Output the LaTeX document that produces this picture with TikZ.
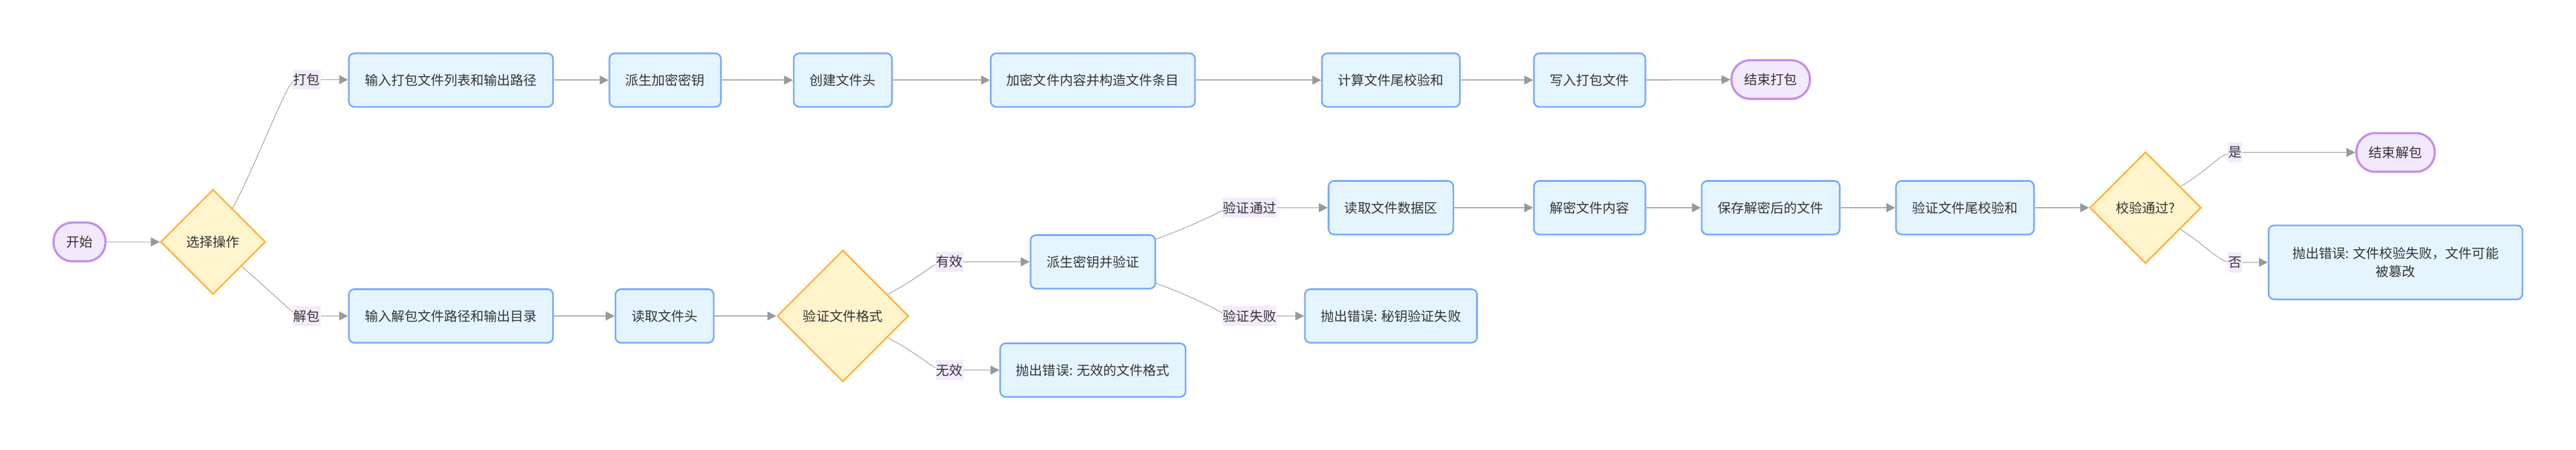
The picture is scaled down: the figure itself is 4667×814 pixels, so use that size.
\documentclass[tikz,border=0pt]{standalone}
\usepackage{fontspec}
\setmainfont{Noto Sans CJK SC}
\usetikzlibrary{arrows.meta,backgrounds,shapes.geometric}

\definecolor{boxfill}{HTML}{E5F5FF}
\definecolor{boxline}{HTML}{78A9FF}
\definecolor{decfill}{HTML}{FFF4CC}
\definecolor{decline}{HTML}{FFB545}
\definecolor{endfill}{HTML}{F3E9FD}
\definecolor{endline}{HTML}{C38FEA}
\definecolor{lblfill}{HTML}{F3EAFD}
\definecolor{linegray}{HTML}{ABABAB}
\definecolor{tipgray}{HTML}{999999}
\definecolor{txt}{HTML}{333333}

\begin{document}
\begin{tikzpicture}[x=0.5pt,y=-0.5pt,font=\fontsize{12pt}{16.5pt}\selectfont,text=txt]
\tikzstyle{decision} = [diamond, aspect=1, draw=decline, line width=1.5pt, fill=decfill,
inner sep=9pt]
\tikzstyle{block} = [rectangle, draw=boxline, line width=1.5pt, fill=boxfill,
rounded corners=5pt, minimum height=48.5pt, inner xsep=14.5pt]
\tikzstyle{terminal} = [rectangle, draw=endline, line width=2pt, fill=endfill,
rounded corners=17pt, minimum height=35pt, inner xsep=11.5pt]
\tikzstyle{elabel} = [rectangle, fill=lblfill, inner xsep=0.5pt, minimum height=18pt]
\tikzstyle{line} = [draw=linegray, line width=1pt, -{Triangle[length=8pt,width=8pt,color=tipgray]}]
\tikzstyle{curve} = [line, line width=0.7pt]

\useasboundingbox (0,0) rectangle (4667,814);

% start and choice
\node [terminal] (start) at (144,438) {开始};
\node [decision] (choose) at (386,438) {选择操作};
\node [elabel] (lblpack) at (556,144) {打包};
\node [elabel] (lblunpack) at (556,572) {解包};

% pack row
\node [block] (pack) at (817,145) {输入打包文件列表和输出路径};
\node [block] (derivekey) at (1205,145) {派生加密密钥};
\node [block] (header) at (1527,145) {创建文件头};
\node [block] (encrypt) at (1980,145) {加密文件内容并构造文件条目};
\node [block] (checksum) at (2520,145) {计算文件尾校验和};
\node [block] (write) at (2880,145) {写入打包文件};
\node [terminal] (endpack) at (3208,144) {结束打包};

% unpack rows
\node [block] (unpack) at (817,572) {输入解包文件路径和输出目录};
\node [block] (readhdr) at (1204,572) {读取文件头};
\node [decision] (verifyfmt) at (1527,572) {验证文件格式};
\node [elabel] (lblvalid) at (1720,474) {有效};
\node [elabel] (lblinvalid) at (1720,670) {无效};
\node [block] (derive) at (1980,474) {派生密钥并验证};
\node [block] (errfmt) at (1980,670) {抛出错误: 无效的文件格式};
\node [elabel] (lblpass) at (2264,376) {验证通过};
\node [elabel] (lblfail) at (2264,572) {验证失败};
\node [block] (readdata) at (2520,376) {读取文件数据区};
\node [block] (errkey) at (2520,572) {抛出错误: 秘钥验证失败};
\node [block] (decrypt) at (2880,376) {解密文件内容};
\node [block] (save) at (3208,376) {保存解密后的文件};
\node [block] (verifysum) at (3560,376) {验证文件尾校验和};
\node [decision] (checkok) at (3887,376) {校验通过?};
\node [elabel] (lblyes) at (4049,276) {是};
\node [elabel] (lblno) at (4049,475) {否};
\node [terminal] (endunpack) at (4340,276) {结束解包};
\node [block, align=center, minimum width=230pt, minimum height=67pt] (errsum) at (4340,475)
{抛出错误: 文件校验失败，文件可能\\被篡改};

\begin{scope}[on background layer]
\tikzstyle{every path}=[line]
\path (start) -- (choose);
\path [curve] (choose) .. controls (455,318) and (520,150) .. (lblpack) -- (pack);
\path [curve] (choose) .. controls (470,510) and (530,565) .. (lblunpack) -- (unpack);

\path (pack) -- (derivekey);
\path (derivekey) -- (header);
\path (header) -- (encrypt);
\path (encrypt) -- (checksum);
\path (checksum) -- (write);
\path (write) -- (endpack);

\path (unpack) -- (readhdr);
\path (readhdr) -- (verifyfmt);
\path [curve] (verifyfmt) .. controls (1650,512) and (1690,480) .. (lblvalid) -- (derive);
\path [curve] (verifyfmt) .. controls (1650,632) and (1690,665) .. (lblinvalid) -- (errfmt);

\path [curve] (derive) .. controls (2150,413) and (2220,380) .. (lblpass) -- (readdata);
\path [curve] (derive) .. controls (2150,532) and (2220,568) .. (lblfail) -- (errkey);

\path (readdata) -- (decrypt);
\path (decrypt) -- (save);
\path (save) -- (verifysum);
\path (verifysum) -- (checkok);

\path [curve] (checkok) .. controls (4000,308) and (4020,282) .. (lblyes) -- (endunpack);
\path [curve] (checkok) .. controls (3990,440) and (4020,472) .. (lblno) -- (errsum);
\end{scope}

\end{tikzpicture}
\end{document}
